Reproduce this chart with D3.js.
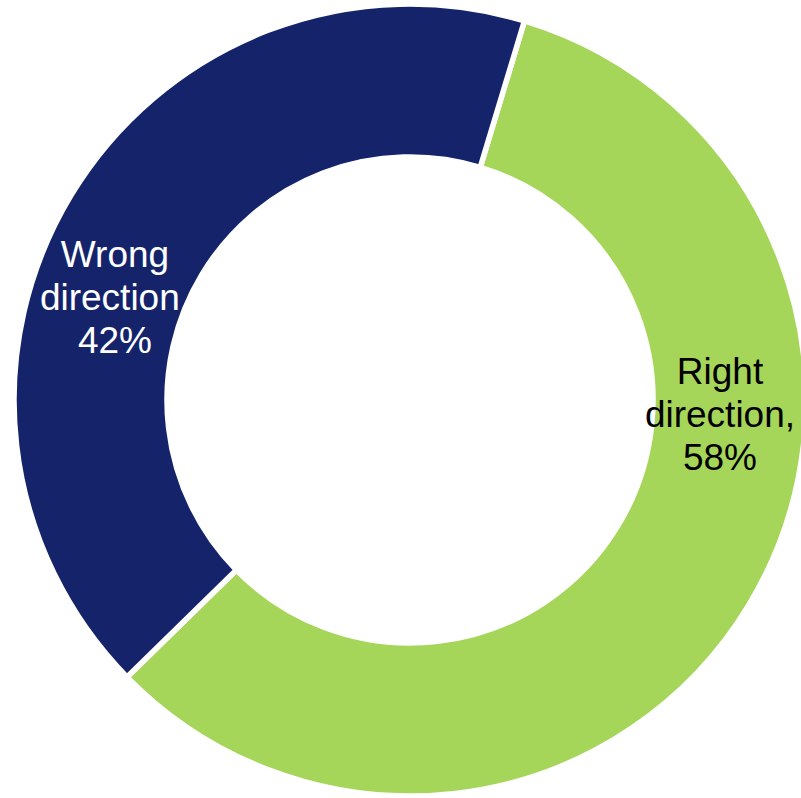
<!DOCTYPE html>
<html>
<head>
<meta charset="utf-8">
<script src="https://cdn.jsdelivr.net/npm/d3@7"></script>
<style>
  html, body { margin: 0; padding: 0; background: #fff; }
  svg { display: block; }
</style>
</head>
<body>
<div class="chart"></div>
<script>
// data
const categories = ['Right direction', 'Wrong direction']
const values = [58, 42]
const colors = ['#a5d65a', '#15246a']
const labelColors = ['#000000', '#ffffff']

const w = 801
const h = 798
const cx = 410
const cy = 400
const outerR = 396
const innerR = 243
const startAngle = 16.8 * Math.PI / 180

// label spots (x, y of middle line)
const labelPos = [[720, 414], [115, 297]]

const svg = d3.select('.chart')
  .append('svg')
  .attr('width', w)
  .attr('height', h)

const g = svg.append('g').attr('transform', `translate(${cx},${cy})`)

const pie = d3.pie()
  .sort(null)
  .value(d => d)
  .startAngle(startAngle)
  .endAngle(startAngle + 2 * Math.PI)

const arc = d3.arc().innerRadius(innerR).outerRadius(outerR)

const arcs = pie(values)

g.selectAll('path')
  .data(arcs)
  .enter()
  .append('path')
  .attr('d', arc)
  .attr('fill', (d, i) => colors[i])
  .attr('stroke', '#fff')
  .attr('stroke-width', 5.5)
  .attr('stroke-linejoin', 'miter')

const fs = 37
const lh = 43

const labels = svg.selectAll('text.lbl')
  .data(arcs)
  .enter()
  .append('text')
  .attr('class', 'lbl')
  .attr('text-anchor', 'middle')
  .attr('font-family', '"Liberation Sans", Arial, sans-serif')
  .attr('font-size', fs)
  .attr('fill', (d, i) => labelColors[i])

labels.each(function(d, i) {
  const t = d3.select(this)
  const lines = [categories[i].split(' ')[0], categories[i].split(' ')[1] + ',', values[i] + '%']
  lines.forEach((s, k) => {
    t.append('tspan')
      .attr('x', labelPos[i][0])
      .attr('y', labelPos[i][1] + (k - 1) * lh + fs * 0.35)
      .text(s)
  })
})
</script>
</body>
</html>
